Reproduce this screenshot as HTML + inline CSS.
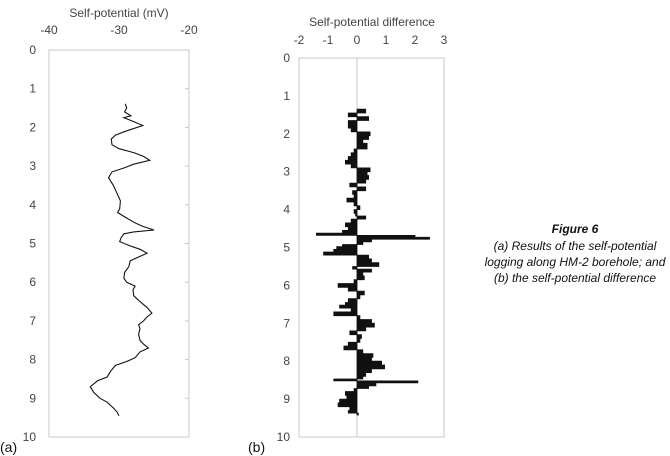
<!DOCTYPE html>
<html><head><meta charset="utf-8"><style>
html,body{margin:0;padding:0;background:#fff;}
svg{display:block;font-family:"Liberation Sans",sans-serif;}
.t{font-size:12px;fill:#444;}
</style></head><body>
<svg width="670" height="456">
<g id="pa"></g>
<g id="pb"></g>
<text x="0" y="452" font-size="14" fill="#111">(a)</text>
<text x="248" y="452" font-size="14" fill="#111">(b)</text>
<g font-style="italic" font-size="12" fill="#111" text-anchor="middle">
<text x="575" y="233" font-weight="bold">Figure 6</text>
<text x="575" y="250">(a) Results of the self-potential</text>
<text x="575" y="266">logging along HM-2 borehole; and</text>
<text x="575" y="282">(b) the self-potential difference</text>
</g>
</svg>
<script>
const spDepths=[1.39,1.5,1.6,1.7,1.75,1.85,1.95,2.1,2.2,2.3,2.45,2.55,2.65,2.75,2.85,2.95,3.05,3.15,3.3,3.5,3.7,3.9,4.1,4.2,4.3,4.45,4.55,4.65,4.7,4.75,4.85,4.95,5.05,5.15,5.25,5.35,5.45,5.6,5.75,5.9,6.0,6.1,6.2,6.35,6.5,6.65,6.8,6.9,7.0,7.1,7.2,7.35,7.5,7.6,7.7,7.8,7.95,8.05,8.15,8.3,8.45,8.55,8.7,8.85,9.0,9.1,9.25,9.35,9.45];
const spValues=[-29.1,-28.9,-29.2,-28.3,-29.3,-27.9,-26.6,-29.1,-30.5,-31.1,-31.0,-30.0,-27.9,-26.5,-25.6,-27.9,-29.3,-31.0,-31.5,-30.8,-30.3,-29.8,-29.9,-30.2,-29.3,-27.9,-26.7,-25.0,-27.9,-29.3,-29.7,-29.9,-28.6,-27.0,-26.0,-27.2,-28.4,-28.6,-29.2,-29.3,-28.9,-27.7,-28.0,-27.9,-27.0,-26.0,-25.3,-26.0,-26.5,-27.2,-27.0,-27.2,-27.0,-26.5,-25.8,-27.0,-27.7,-28.9,-30.5,-31.2,-31.7,-33.1,-34.1,-33.6,-32.7,-31.7,-30.8,-30.3,-30.0];
const diffDepths=[1.35,1.45,1.55,1.65,1.75,1.85,1.95,2.05,2.15,2.25,2.4,2.5,2.6,2.7,2.8,2.9,3.0,3.1,3.2,3.3,3.4,3.5,3.6,3.7,3.8,3.9,4.0,4.1,4.17,4.25,4.35,4.45,4.55,4.62,4.68,4.73,4.78,4.85,4.92,4.98,5.05,5.12,5.2,5.3,5.4,5.5,5.57,5.65,5.75,5.85,5.95,6.05,6.15,6.25,6.35,6.45,6.52,6.6,6.7,6.8,6.9,7.0,7.1,7.2,7.3,7.4,7.5,7.6,7.7,7.8,7.9,8.0,8.1,8.2,8.3,8.4,8.47,8.52,8.57,8.65,8.72,8.8,8.9,9.0,9.1,9.2,9.3,9.37];
const diffValues=[0.3,-0.3,0.4,-0.3,-0.3,-0.2,0.45,0.4,0.2,0.35,-0.1,-0.2,-0.3,-0.4,-0.2,0.45,0.35,0.4,0.3,-0.25,0.3,-0.15,-0.1,-0.35,-0.1,0.1,-0.1,-0.05,0.3,-0.2,-0.4,-0.3,-0.5,-1.4,2.0,2.5,0.5,0.2,-0.5,-0.7,-0.8,-1.15,0.4,0.5,0.75,-0.15,0.5,0.2,0.25,-0.1,-0.65,-0.3,0.25,0.1,-0.3,-0.4,-0.6,-0.2,-0.8,0.1,0.5,0.6,0.3,-0.25,0.15,0.1,-0.3,-0.45,0.2,0.55,0.5,0.85,0.95,0.5,0.3,0.2,-0.8,2.1,0.65,0.4,-0.1,-0.4,-0.35,-0.6,-0.65,-0.25,-0.3,0.05];
const depthTicks=[0,1,2,3,4,5,6,7,8,9,10];
const spTicks=[-40,-30,-20];
const diffTicks=[-2,-1,0,1,2,3];
const NS="http://www.w3.org/2000/svg";
function mk(p,tag,attrs,txt){const e=document.createElementNS(NS,tag);for(const k in attrs)e.setAttribute(k,attrs[k]);if(txt!==undefined)e.textContent=txt;p.appendChild(e);return e;}
// chart a
const A={x0:49,x1:189,y0:50,y1:437,vmin:-40,vmax:-20};
const ax=v=>A.x0+(v-A.vmin)/(A.vmax-A.vmin)*(A.x1-A.x0);
const ayA=d=>A.y0+d/10*(A.y1-A.y0);
const pa=document.getElementById('pa');
let r=mk(pa,'rect',{x:A.x0,y:A.y0,width:A.x1-A.x0,height:A.y1-A.y0,fill:'none',stroke:'#c8c8c8'});

depthTicks.forEach(d=>{
 const t=mk(pa,'text',{x:36,y:ayA(d)+4,class:'t','text-anchor':'end'},d);
 
 const l=mk(pa,'line',{x1:A.x1-4,x2:A.x1,y1:ayA(d),y2:ayA(d),stroke:'#c8c8c8'});
 
});
spTicks.forEach(v=>{
 const t=mk(pa,'text',{x:ax(v),y:34,class:'t','text-anchor':'middle'},v);
 
});
let tt=mk(pa,'text',{x:119,y:17,class:'t','text-anchor':'middle'},'Self-potential (mV)');

let pts=spDepths.map((d,i)=>ax(spValues[i]).toFixed(1)+','+ayA(d).toFixed(1)).join(' ');
let pl=mk(pa,'polyline',{points:pts,fill:'none',stroke:'#111','stroke-width':1.1});

// chart b
const B={x0:299,x1:444,y0:58,y1:437,vmin:-2,vmax:3};
const bx=v=>B.x0+(v-B.vmin)/(B.vmax-B.vmin)*(B.x1-B.x0);
const byB=d=>B.y0+d/10*(B.y1-B.y0);
const pb=document.getElementById('pb');
r=mk(pb,'rect',{x:B.x0,y:B.y0,width:B.x1-B.x0,height:B.y1-B.y0,fill:'none',stroke:'#c8c8c8'});

let zl=mk(pb,'line',{x1:bx(0),x2:bx(0),y1:B.y0,y2:B.y1,stroke:'#c8c8c8'});

depthTicks.forEach(d=>{
 const t=mk(pb,'text',{x:290,y:byB(d)+4,class:'t','text-anchor':'end'},d);
 
});
diffTicks.forEach(v=>{
 const t=mk(pb,'text',{x:bx(v),y:44,class:'t','text-anchor':'middle'},v);
 
});
tt=mk(pb,'text',{x:372,y:26,class:'t','text-anchor':'middle'},'Self-potential difference');

let d='M'+bx(0)+','+byB(diffDepths[0]);
diffDepths.forEach((dd,i)=>{
 const nd=i<diffDepths.length-1?diffDepths[i+1]:dd+0.05;
 d+=' L'+bx(diffValues[i]).toFixed(1)+','+byB(dd).toFixed(1)+' L'+bx(diffValues[i]).toFixed(1)+','+byB(nd).toFixed(1);
});
d+=' L'+bx(0)+','+byB(diffDepths[diffDepths.length-1]+0.05)+' Z';
let ar=mk(pb,'path',{d:d,fill:'#111',stroke:'#111','stroke-width':0.8});

</script>
</body></html>
